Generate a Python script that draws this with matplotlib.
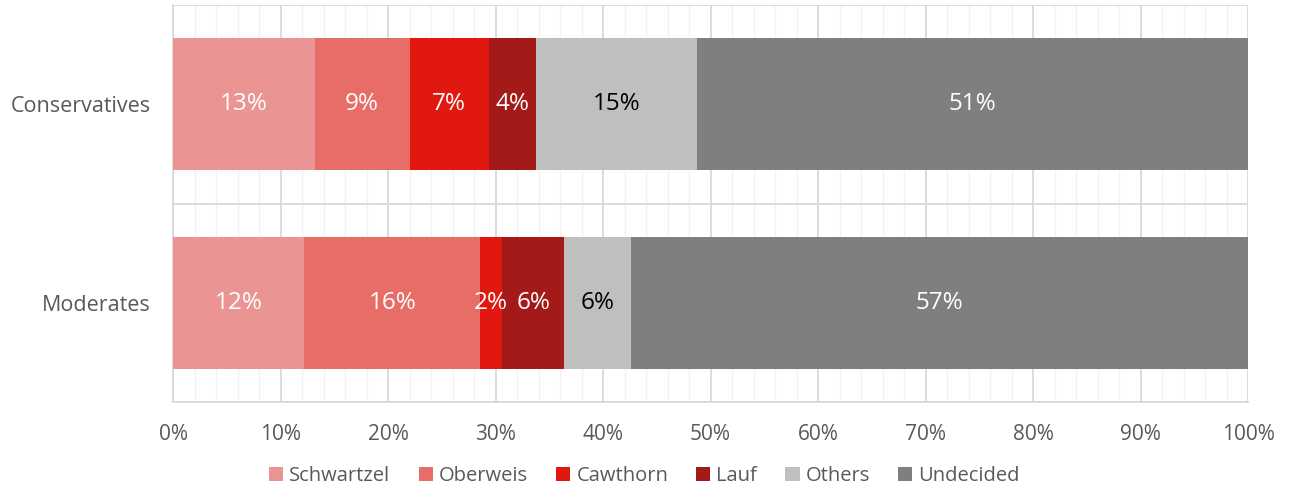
import numpy as np
import matplotlib
matplotlib.use("Agg")
import matplotlib.pyplot as plt
from matplotlib.ticker import MultipleLocator, PercentFormatter

plt.rcParams['font.family'] = ['Open Sans', 'DejaVu Sans']

# data (shares of each group)
groups = ['Conservatives', 'Moderates']
candidates = ['Schwartzel', 'Oberweis', 'Cawthorn', 'Lauf', 'Others', 'Undecided']
conservatives = [13.2, 8.8, 7.4, 4.4, 14.9, 51.3]
moderates = [12.2, 16.4, 2.0, 5.8, 6.2, 57.4]

colors = ['#EA9593', '#E86D67', '#E01810', '#A31A18', '#BFBFBF', '#7F7F7F']
label_colors = ['white', 'white', 'white', 'white', 'black', 'white']
grey_text = '#595959'

values = np.array([conservatives, moderates])

fig = plt.figure(figsize=(12.89, 4.91), dpi=100)
ax = fig.add_axes([173 / 1289, 1 - 402 / 491, 1075 / 1289, 397 / 491])

y = np.arange(len(groups))
left = np.zeros(len(groups))
for i, name in enumerate(candidates):
    vals = values[:, i]
    bars = ax.barh(y, vals, left=left, height=0.665, color=colors[i],
                   label=name, zorder=3)
    for b, v in zip(bars, vals):
        ax.text(b.get_x() + b.get_width() / 2, b.get_y() + b.get_height() / 2,
                f'{v:.0f}%', ha='center', va='center', fontsize=17.5,
                color=label_colors[i], zorder=4)
    left += vals

ax.set_xlim(0, 100)
ax.set_ylim(len(groups) - 0.5, -0.5)
ax.set_yticks(y)
ax.set_yticklabels(groups)
ax.yaxis.set_minor_locator(MultipleLocator(1, offset=0.5))
ax.xaxis.set_major_locator(MultipleLocator(10))
ax.xaxis.set_minor_locator(MultipleLocator(2))
ax.xaxis.set_major_formatter(PercentFormatter(decimals=0))

ax.grid(which='major', axis='x', color='#D9D9D9', linewidth=1.3, zorder=1)
ax.grid(which='minor', axis='x', color='#F2F2F2', linewidth=1.0, zorder=0)
ax.grid(which='minor', axis='y', color='#D9D9D9', linewidth=1.3, zorder=1)

for side in ['top', 'right']:
    ax.spines[side].set_visible(False)
for side in ['left', 'bottom']:
    ax.spines[side].set_color('#D9D9D9')
    ax.spines[side].set_linewidth(1.3)

ax.tick_params(which='both', length=0)
ax.tick_params(axis='x', labelsize=15, labelcolor=grey_text, pad=16)
ax.tick_params(axis='y', labelsize=15.5, labelcolor=grey_text, pad=16)

fig.legend(loc='center', bbox_to_anchor=(0.5, 1 - 476 / 491), ncol=6,
           frameon=False, fontsize=14.5, labelcolor=grey_text,
           handlelength=0.7, handleheight=0.7, handletextpad=0.3,
           columnspacing=1.4)

fig.savefig('out.png', dpi=100)
